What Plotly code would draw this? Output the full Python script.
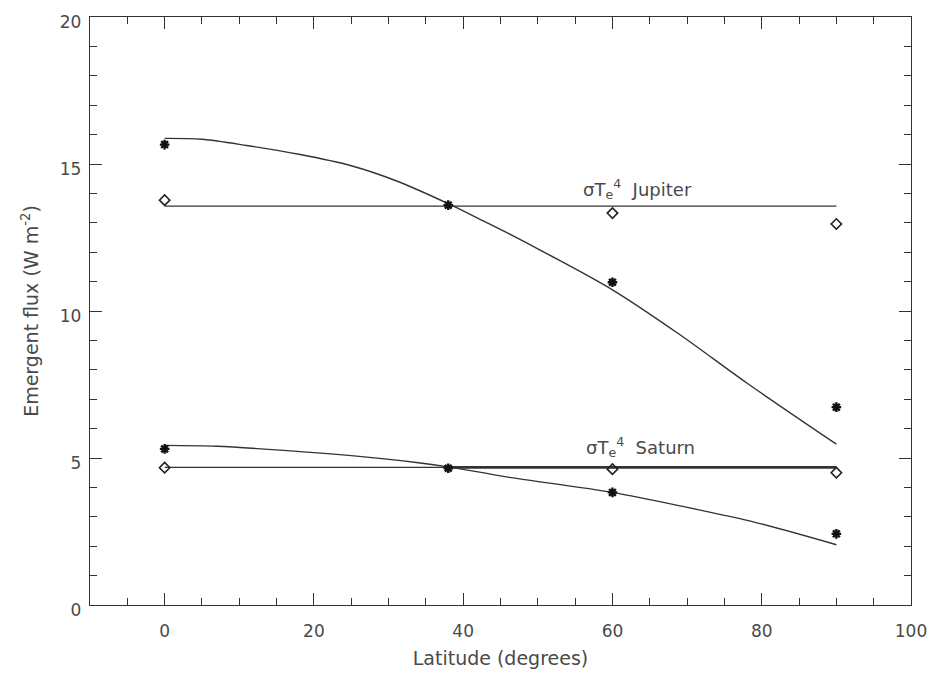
import plotly.graph_objects as go

# Observed emergent flux (asterisks) and diamonds
jup_star_lat = [0, 38, 60, 90]
jup_star_flux = [15.66, 13.6, 10.98, 6.73]
jup_dia_lat = [0, 60, 90]
jup_dia_flux = [13.77, 13.33, 12.96]

sat_star_lat = [0, 38, 60, 90]
sat_star_flux = [5.31, 4.65, 3.83, 2.42]
sat_dia_lat = [0, 60, 90]
sat_dia_flux = [4.67, 4.62, 4.5]

# Fitted curves
jup_curve_lat = [0, 5, 11, 18, 25, 31, 38, 42, 46.5, 51, 60, 69, 78, 90]
jup_curve_flux = [15.87, 15.84, 15.63, 15.33, 14.94, 14.43, 13.65, 13.15, 12.58, 11.98, 10.72, 9.2, 7.55, 5.47]
sat_curve_lat = [0, 7, 16, 25, 34, 38, 46, 60, 70, 79, 90]
sat_curve_flux = [5.43, 5.40, 5.26, 5.08, 4.84, 4.70, 4.35, 3.83, 3.32, 2.82, 2.05]

# sigma Te^4 reference levels
jup_te4 = 13.57
sat_te4 = 4.68
level_lat = [0, 90]
sat_thick_lat = [38, 90]

ink = "#333333"
txt = "#4a4a4a"
FAM = "DejaVu Sans, Verdana, sans-serif"

fig = go.Figure()

def line(x, y, w=1.3, shape="linear"):
    fig.add_trace(go.Scatter(x=x, y=y, mode="lines",
                             line=dict(color=ink, width=w, shape=shape, smoothing=0.9),
                             showlegend=False, hoverinfo="skip"))

line(level_lat, [jup_te4, jup_te4], 1.2)
line(level_lat, [sat_te4, sat_te4], 1.2)
line(sat_thick_lat, [sat_te4, sat_te4], 2.6)
line(jup_curve_lat, jup_curve_flux, 1.4, "spline")
line(sat_curve_lat, sat_curve_flux, 1.4, "spline")

for x, y in [(jup_star_lat, jup_star_flux), (sat_star_lat, sat_star_flux)]:
    fig.add_trace(go.Scatter(x=x, y=y, mode="markers",
                             marker=dict(symbol="asterisk-open", size=8, color="#111111",
                                         line=dict(color="#111111", width=2.4)),
                             showlegend=False))
for x, y in [(jup_dia_lat, jup_dia_flux), (sat_dia_lat, sat_dia_flux)]:
    fig.add_trace(go.Scatter(x=x, y=y, mode="markers",
                             marker=dict(symbol="diamond-open", size=8, color="#222222",
                                         line=dict(color="#222222", width=1.6)),
                             showlegend=False))

font = dict(family=FAM, size=18, color=txt)
fig.add_annotation(x=63.3, y=jup_te4, text="σT<sub>e</sub><sup>4</sup>  Jupiter", showarrow=False,
                   font=font, yanchor="bottom", yshift=2)
fig.add_annotation(x=63.8, y=sat_te4, text="σT<sub>e</sub><sup>4</sup>  Saturn", showarrow=False,
                   font=font, yanchor="bottom", yshift=5)

axis_common = dict(showgrid=False, zeroline=False, showline=True, linecolor=ink, linewidth=1.3,
                   mirror="ticks", ticks="inside", ticklen=12, tickwidth=1.4, tickcolor=ink,
                   tickfont=dict(family=FAM, size=17, color=txt))

fig.update_xaxes(range=[-10, 100], tickvals=[0, 20, 40, 60, 80, 100],
                 minor=dict(dtick=5, tick0=0, ticklen=7, ticks="inside", tickcolor=ink, tickwidth=1.2),
                 ticklabelstandoff=10,
                 title=dict(text="Latitude (degrees)", font=dict(family=FAM, size=19, color=txt), standoff=12),
                 **axis_common)
fig.update_yaxes(range=[0, 20], tickvals=[0, 5, 10, 15, 20],
                 minor=dict(dtick=1, tick0=0, ticklen=7, ticks="inside", tickcolor=ink, tickwidth=1.2),
                 ticklabelshift=5, ticklabelstandoff=4,
                 title=dict(text="Emergent flux (W m<sup>-2</sup>)", font=dict(family=FAM, size=19, color=txt), standoff=16),
                 **axis_common)

fig.update_layout(width=939, height=678, margin=dict(l=90, r=24, t=13, b=71),
                  plot_bgcolor="white", paper_bgcolor="white")

fig.write_html("out.html")
